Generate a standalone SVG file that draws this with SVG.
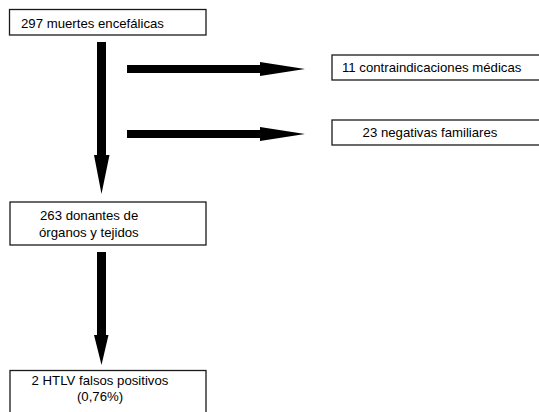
<svg xmlns="http://www.w3.org/2000/svg" width="539" height="412" viewBox="0 0 539 412">
<style>
.box{fill:#fff;stroke:#1a1a1a;stroke-width:1.3}
.t{font-family:"Liberation Sans",Arial,sans-serif;font-size:13.2px;fill:#000}
.arr{fill:#000}
</style>
<rect width="539" height="412" fill="#fff"/>
<g id="connectors">
<polygon class="arr" points="97,42 106,42 106,155 109.5,155 101.5,194 94,155 97,155"/>
<polygon class="arr" points="127,65 260,65 260,62 305,69 260,76 260,73 127,73"/>
<polygon class="arr" points="127,130 260,130 260,127 305,134 260,141 260,138 127,138"/>
<polygon class="arr" points="97,252 106,252 106,335 108.5,335 101.5,365 94,335 97,335"/>
</g>
<g id="n1">
<rect class="box" x="9.5" y="9.5" width="196.5" height="25.5"/>
<text class="t" x="21" y="28">297 muertes encefálicas</text>
</g>
<g id="n2">
<rect class="box" x="332" y="55" width="220" height="25"/>
<text class="t" x="342" y="72">11 contraindicaciones médicas</text>
</g>
<g id="n3">
<rect class="box" x="332" y="120" width="220" height="25"/>
<text class="t" x="430" y="137" text-anchor="middle">23 negativas familiares</text>
</g>
<g id="n4">
<rect class="box" x="10" y="202" width="196" height="43"/>
<text class="t" x="40" y="220">263 donantes de</text>
<text class="t" x="39" y="237">órganos y tejidos</text>
</g>
<g id="n5">
<rect class="box" x="10" y="370.5" width="196" height="50"/>
<text class="t" x="100" y="385" text-anchor="middle">2 HTLV falsos positivos</text>
<text class="t" x="100" y="401" text-anchor="middle">(0,76%)</text>
</g>
</svg>
